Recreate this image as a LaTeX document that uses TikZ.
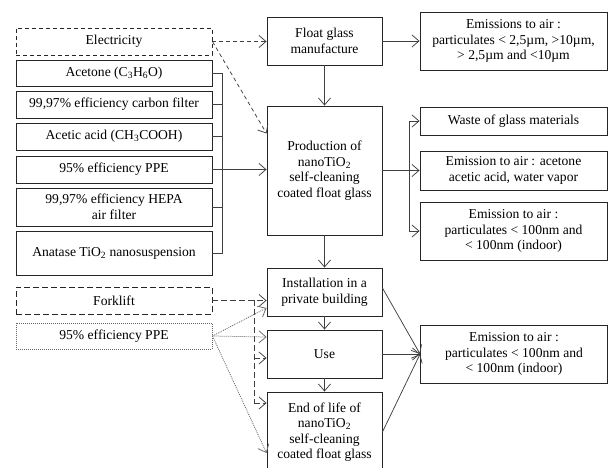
\documentclass[tikz,border=0pt]{standalone}
\usepackage{fontspec}
\setmainfont{Liberation Serif}
\usetikzlibrary{arrows.meta,calc}

\begin{document}
\begin{tikzpicture}[x=1pt,y=-1pt,
  font=\fontsize{13.6}{15.5}\selectfont,
  box/.style={draw=black!85,line width=0.9pt,align=center,inner sep=1pt},
  inbox/.style={box,minimum width=196pt},
  stage/.style={box,minimum width=115pt},
  outbox/.style={box,minimum width=187pt},
  con/.style={draw=black!75,line width=0.75pt},
  arr/.style={con,-{Straight Barb[length=7pt,width=12pt]}},
  dsh/.style={dash pattern=on 4pt off 3pt},
  dshlong/.style={dash pattern=on 6pt off 3pt},
  dot/.style={draw=black!60,dash pattern=on 1pt off 1pt}]
				\useasboundingbox (0,0) rectangle (611,468);
				\clip (0,0) rectangle (611,468);
				% inputs
				\node[inbox,dsh,minimum height=27pt] (elec) at (114,41.5) {Electricity};
				\node[inbox,minimum height=26pt] (acet) at (114,73) {Acetone (C\textsubscript{3}H\textsubscript{6}O)};
				\node[inbox,minimum height=27pt] (carb) at (114,104.5) {99,97\% efficiency carbon filter};
				\node[inbox,minimum height=27pt] (acid) at (114,136.5) {Acetic acid (CH\textsubscript{3}COOH)};
				\node[inbox,minimum height=27pt] (ppe) at (114,169.5) {95\% efficiency PPE};
				\node[inbox,minimum height=38pt] (hepa) at (114,207) {99,97\% efficiency HEPA\\ air filter};
				\node[inbox,minimum height=44pt] (anat) at (114,253) {Anatase TiO\textsubscript{2} nanosuspension};
				\node[inbox,dshlong,minimum height=27pt] (fork) at (114,300.5) {Forklift};
				\node[inbox,dot,minimum height=26pt] (ppeb) at (114,336) {95\% efficiency PPE};
				% stages
				\node[stage,minimum height=48pt] (float) at (324.5,41) {Float glass\\ manufacture};
				\node[stage,minimum height=129pt] (prod) at (324.5,170.5) {Production of\\ nanoTiO\textsubscript{2}\\ self-cleaning\\ coated float glass};
				\node[stage,minimum height=48pt] (inst) at (324.5,292) {Installation in a\\ private building};
				\node[stage,minimum height=48pt] (use) at (324.5,354) {Use};
				\node[stage,minimum height=80pt] (eol) at (324.5,432) {End of life of\\ nanoTiO\textsubscript{2}\\ self-cleaning\\ coated float glass};
				% outputs
				\node[outbox,minimum height=58pt] (emtop) at (513.5,41) {Emissions to air :\\ particulates < 2,5µm, >10µm,\\ > 2,5µm and <10µm};
				\node[outbox,minimum height=28pt] (waste) at (513.5,121) {Waste of glass materials};
				\node[outbox,minimum height=39pt] (emac) at (513.5,170.5) {Emission to air : acetone\\ acetic acid, water vapor};
				\node[outbox,minimum height=58pt] (empart) at (513.5,231) {Emission to air :\\ particulates < 100nm and\\ < 100nm (indoor)};
				\node[outbox,minimum height=58pt] (embot) at (514,354) {Emission to air :\\ particulates < 100nm and\\ < 100nm (indoor)};
				% left bracket
				\coordinate (brl) at (222,73);
				\draw[con] (acet.east) -- (acet.east -| brl) -- (anat.east -| brl) -- (anat.east);
				\foreach \n in {carb,acid,ppe,hepa}
					\draw[con] (\n.east) -- (\n.east -| brl);
				\draw[arr] (ppe.east -| brl) -- (ppe.east -| prod.west);
				% electricity
				\draw[arr,dsh] (elec.east) -- (elec.east -| float.west);
				\draw[arr,dsh] (elec.east) -- ($(prod.west)+(0,-37)$);
				% main chain
				\draw[arr] (float.east) -- (emtop.west);
				\draw[arr] (float) -- (prod);
				\draw[arr] (prod) -- (inst);
				\draw[arr] (inst) -- (use);
				\draw[arr] (use) -- (eol);
				% right bracket
				\coordinate (brr) at (409,121);
				\draw[con] (prod.east) -- (prod.east -| brr);
				\draw[con] (waste.west -| brr) -- (empart.west -| brr);
				\foreach \n in {waste,emac,empart}
					\draw[arr] (\n.west -| brr) -- (\n.west);
				% forklift
				\coordinate (fkv) at (254,300);
				\coordinate (usef) at ($(use.west)+(0,4)$);
				\coordinate (eolf) at ($(eol.west)+(0,-29)$);
				\draw[arr,dshlong] (fork.east) -- (fork.east -| inst.west);
				\draw[con,dshlong] (fkv) -- (fkv |- eolf);
				\draw[arr,dshlong] (fkv |- usef) -- (usef);
				\draw[arr,dshlong] (fkv |- eolf) -- (eolf);
				% ppe during use
				\draw[arr,dot] (ppeb.east) -- ($(inst.west)+(0,16)$);
				\draw[arr,dot] (ppeb.east) -- ($(use.west)+(0,-17)$);
				\draw[arr,dot] (ppeb.east) -- ($(eol.west)+(0,21)$);
				% to air
				\draw[arr] ($(inst.east)+(0,-4)$) -- (embot.west);
				\draw[arr] (use.east) -- (embot.west);
				\draw[arr] (eol.east) -- (embot.west);
			\end{tikzpicture}
\end{document}
